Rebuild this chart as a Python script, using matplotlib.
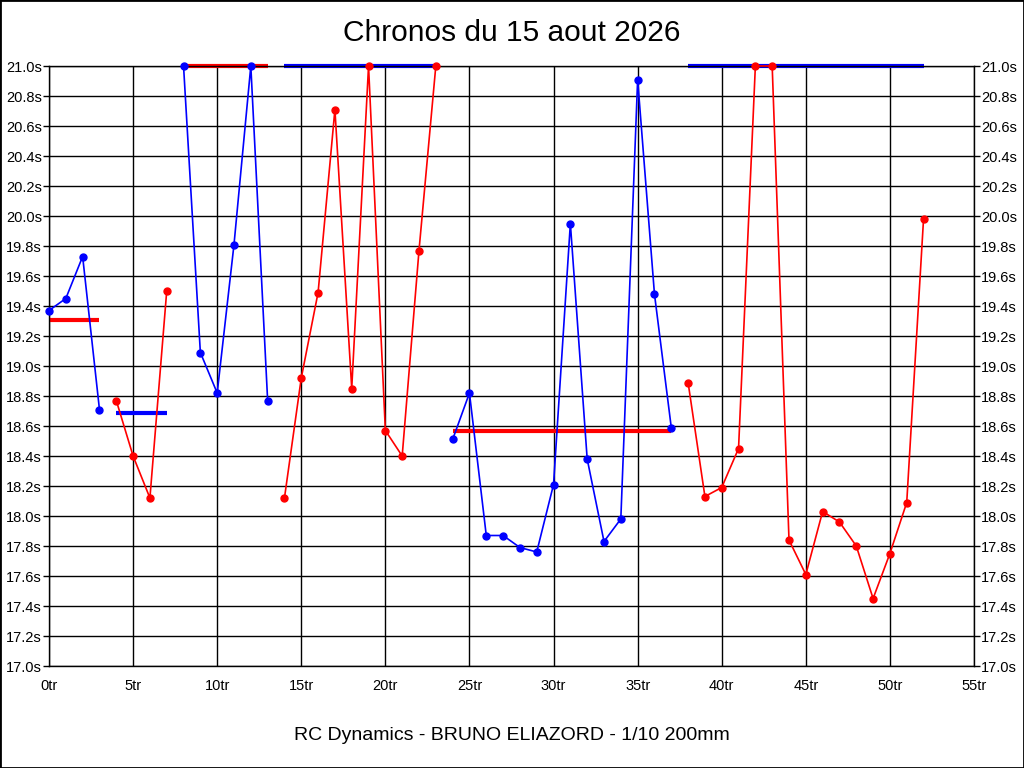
import matplotlib.pyplot as plt
from matplotlib.patches import Rectangle

plt.rcParams['font.family'] = ['Liberation Sans', 'DejaVu Sans']

# temps au tour par relais (tours de depart + chronos)
starts = [0, 4, 8, 14, 24, 38]
times1 = [19.37, 19.45, 19.73, 18.71]
times2 = [18.77, 18.40, 18.12, 19.50]
times3 = [21.0, 19.09, 18.82, 19.81, 21.0, 18.77]
times4 = [18.12, 18.92, 19.49, 20.71, 18.85, 21.0, 18.57, 18.40, 19.77, 21.0]
times5 = [18.51, 18.82, 17.87, 17.87, 17.79, 17.76, 18.21, 19.95, 18.38, 17.83,
          17.98, 20.91, 19.48, 18.59]
times6 = [18.89, 18.13, 18.19, 18.45, 21.0, 21.0, 17.84, 17.61, 18.03, 17.96,
          17.80, 17.45, 17.75, 18.09, 19.98]
moyennes = [19.31, 18.69, 21.0, 21.0, 18.57, 21.0]
couleurs = ['blue', 'red', 'blue', 'red', 'blue', 'red']
inverse = {'blue': 'red', 'red': 'blue'}

xticks = [0, 5, 10, 15, 20, 25, 30, 35, 40, 45, 50, 55]
yticks = [17.0, 17.2, 17.4, 17.6, 17.8, 18.0, 18.2, 18.4, 18.6, 18.8, 19.0,
          19.2, 19.4, 19.6, 19.8, 20.0, 20.2, 20.4, 20.6, 20.8, 21.0]

fig = plt.figure(figsize=(10.24, 7.68), dpi=100)
ax = fig.add_axes([49/1024, 102/768, 925/1024, 600/768])

series = [times1, times2, times3, times4, times5, times6]
for s, t, m, c in zip(starts, series, moyennes, couleurs):
    laps = list(range(s, s + len(t)))
    ax.plot(laps, t, color=c, lw=1.2, marker='o', ms=5, zorder=3, clip_on=False)
    ax.plot([laps[0], laps[-1]], [m, m], color=inverse[c], lw=3, zorder=2,
            solid_capstyle='butt', clip_on=False)

ax.set_xlim(0, 55)
ax.set_ylim(17.0, 21.0)
ax.set_xticks(xticks)
ax.set_xticklabels(['%dtr' % x for x in xticks])
ax.set_yticks(yticks)
ax.set_yticklabels(['%.1fs' % y for y in yticks])
ax.grid(True, color='black', lw=1)
ax.tick_params(axis='y', which='both', left=True, right=True, labelleft=True,
               labelright=True, length=4, width=1, pad=1, labelsize=10.5)
ax.tick_params(axis='x', length=0, pad=9, labelsize=10.5)
for sp in ax.spines.values():
    sp.set_color('black')
    sp.set_linewidth(1)

fig.text(0.5, 1 - 33/768, 'Chronos du 15 aout 2026', ha='center', va='center', fontsize=21.5)
fig.text(0.5, 1 - 735/768, 'RC Dynamics - BRUNO ELIAZORD - 1/10 200mm', ha='center',
         va='center', fontsize=14)
fig.patches.append(Rectangle((0, 0), 1, 1, transform=fig.transFigure, fill=False,
                             edgecolor='black', lw=2))

plt.savefig('out.png', dpi=100)
